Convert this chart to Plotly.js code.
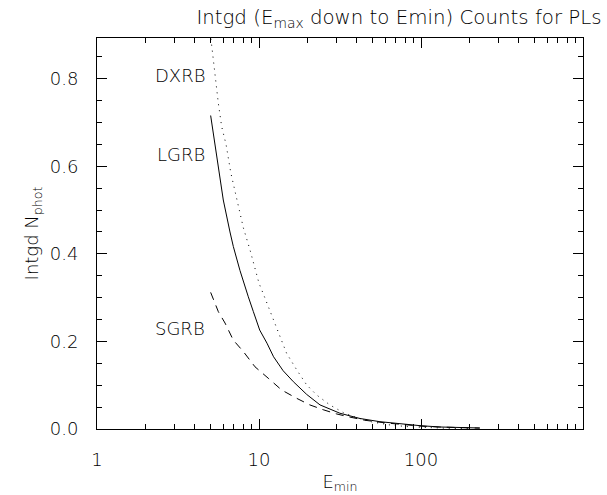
<!DOCTYPE html>
<html>
<head>
<meta charset="utf-8">
<script src="https://cdn.plot.ly/plotly-3.0.1.min.js"></script>
<style>
  html, body { margin: 0; padding: 0; background: #fff; }
  #plot { width: 607px; height: 495px; }
</style>
</head>
<body>
<div id="plot"></div>
<script>
    // integrated counts (E_min, N_phot)
    let lgrbE = [5.03, 5.28, 5.53, 5.80, 6.02, 6.62, 6.94, 7.63, 8.0, 8.59, 9.23, 10.1, 11.2, 12.3, 14.1, 16.3, 19.7, 23.8, 31.6, 42.0, 55.8, 74.2, 98.6, 131, 174, 231];
    let lgrbN = [0.716, 0.661, 0.607, 0.554, 0.523, 0.450, 0.417, 0.362, 0.337, 0.302, 0.268, 0.226, 0.196, 0.165, 0.133, 0.108, 0.079, 0.055, 0.036, 0.024, 0.0167, 0.0114, 0.0076, 0.0046, 0.003, 0.0023];

    let sgrbE = [5.03, 5.61, 6.17, 6.94, 8.0, 9.45, 11.4, 13.8, 17.1, 20.6, 24.9, 30.2, 35.6, 45, 60, 80, 100, 130, 170, 230];
    let sgrbN = [0.312, 0.268, 0.242, 0.203, 0.177, 0.142, 0.116, 0.089, 0.070, 0.055, 0.044, 0.0343, 0.028, 0.020, 0.014, 0.009, 0.0065, 0.0045, 0.003, 0.002];

    let dxrbE = [5.0, 5.18, 5.35, 5.61, 5.88, 6.26, 6.7, 7.28, 8.0, 8.8, 10.0, 10.7, 11.2, 12.9, 14.8, 17.1, 19.7, 22.7, 27.4, 33.2, 40, 50, 65, 85, 110, 150, 200];
    let dxrbN = [0.905, 0.855, 0.805, 0.744, 0.691, 0.650, 0.585, 0.523, 0.46, 0.409, 0.333, 0.306, 0.287, 0.226, 0.173, 0.135, 0.1006, 0.0777, 0.0549, 0.0373, 0.026, 0.016, 0.009, 0.005, 0.003, 0.0015, 0.0008];

    let labelNames = ['DXRB', 'LGRB', 'SGRB'];
    let labelE = [4.8, 4.8, 4.8];
    let labelN = [0.807, 0.626, 0.229];

    let xTickVals = [1, 10, 100];
    let xTickText = ['1', '10', '100'];
    let xMinorVals = [2, 3, 4, 5, 6, 7, 8, 9, 20, 30, 40, 50, 60, 70, 80, 90, 200, 300, 400, 500, 600, 700, 800, 900];
    let yTickVals = [0, 0.2, 0.4, 0.6, 0.8];
    let yTickText = ['0.0', '0.2', '0.4', '0.6', '0.8'];

    let family = 'DejaVu Sans, Liberation Sans, sans-serif';
    let txt = (size) => ({family: family, size: size, color: '#000', weight: 200});
    let line = (dash) => ({color: '#000', width: 1, dash: dash});

    let traces = [
        {x: lgrbE, y: lgrbN, mode: 'lines', line: line('solid')},
        {x: sgrbE, y: sgrbN, mode: 'lines', line: line('8px,6px')},
        {x: dxrbE, y: dxrbN, mode: 'lines', line: line('1px,5px')}
    ];

    let axisBase = {
        showgrid: false, zeroline: false, showline: true, linecolor: '#000', linewidth: 1,
        mirror: 'ticks', ticks: 'inside', ticklen: 10, tickcolor: '#000', tickwidth: 1,
        tickfont: txt(18)
    };

    let layout = {
        width: 607, height: 495,
        margin: {l: 97, r: 24, t: 38, b: 66},
        paper_bgcolor: '#fff', plot_bgcolor: '#fff',
        showlegend: false,
        font: {family: family, color: '#000'},
        title: {
            text: 'Intgd (E<sub>max</sub> down to Emin) Counts for PLs',
            font: txt(19.8),
            xref: 'container', x: 399 / 607, xanchor: 'center',
            yref: 'container', y: 1 - 17 / 495, yanchor: 'middle'
        },
        xaxis: Object.assign({}, axisBase, {
            type: 'log', range: [0, 3],
            tickmode: 'array', tickvals: xTickVals, ticktext: xTickText,
            ticklabelstandoff: 14,
            minor: {tickmode: 'array', tickvals: xMinorVals, ticks: 'inside', ticklen: 5, tickcolor: '#000', showgrid: false},
            title: {text: 'E<sub>min</sub>', font: txt(18), standoff: 6}
        }),
        yaxis: Object.assign({}, axisBase, {
            range: [0, 0.893],
            tickmode: 'array', tickvals: yTickVals, ticktext: yTickText,
            ticklabelstandoff: 14,
            minor: {dtick: 0.05, ticks: 'inside', ticklen: 5, tickcolor: '#000', showgrid: false},
            title: {text: 'Intgd N<sub>phot</sub>', font: txt(18), standoff: 6}
        }),
        annotations: labelNames.map((name, i) => ({
            text: name, x: Math.log10(labelE[i]), y: labelN[i], xref: 'x', yref: 'y',
            xanchor: 'right', yanchor: 'middle', showarrow: false,
            font: txt(18)
        }))
    };

    Plotly.newPlot('plot', traces, layout, {displayModeBar: false, staticPlot: true});
</script>
</body>
</html>
